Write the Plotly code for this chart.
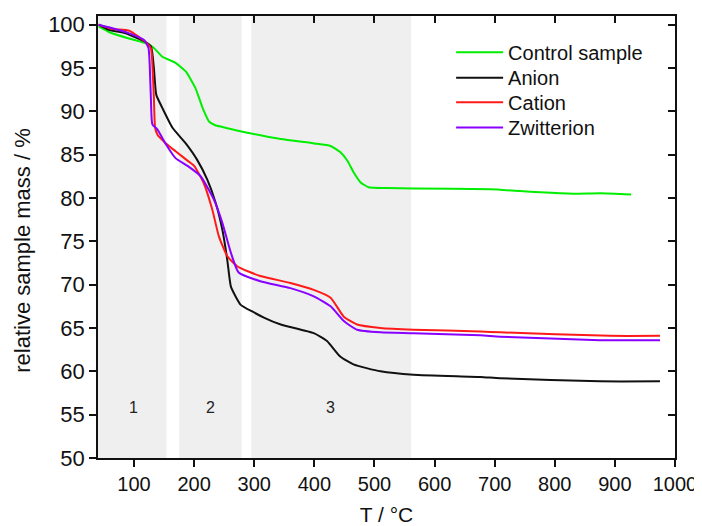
import plotly.graph_objects as go

# ---- data ----
control_x = [41, 60, 92, 122, 133, 140, 147, 169, 186, 202, 214, 225, 235, 247, 291, 344, 400, 427, 443,
             455, 465, 477, 490, 520, 565, 693, 742, 776, 831, 876, 927]
control_y = [99.8, 99.1, 98.4, 97.8, 97.3, 96.8, 96.3, 95.6, 94.6, 92.7, 90.4, 88.8, 88.4, 88.2, 87.5, 86.8,
             86.3, 86.0, 85.3, 84.3, 83.0, 81.8, 81.25, 81.15, 81.1, 81.0, 80.8, 80.65, 80.5, 80.55, 80.4]

anion_x = [41, 58, 86, 119, 128, 130, 133, 137, 147, 164, 186, 205, 222, 236, 247, 255, 261, 270, 277, 316,
           344, 399, 421, 443, 465, 510, 565, 676, 709, 875, 975]
anion_y = [100, 99.4, 99.0, 98.0, 97.5, 96.9, 95.0, 91.9, 90.4, 88.1, 86.3, 84.4, 82.1, 79.4, 76.3, 72.9,
           69.8, 68.5, 67.7, 66.2, 65.4, 64.4, 63.5, 61.7, 60.8, 60.0, 59.6, 59.35, 59.2, 58.85, 58.85]

cation_x = [41, 64, 92, 119, 128, 130.5, 133, 135, 139, 153, 169, 191, 200, 216, 230, 241, 255, 272, 310,
            360, 399, 427, 449, 471, 510, 565, 676, 709, 892, 975]
cation_y = [100, 99.5, 99.3, 98.0, 97.3, 95.4, 91.5, 88.1, 87.3, 86.3, 85.4, 84.2, 83.7, 81.7, 78.7, 75.6,
            73.3, 72.1, 71.0, 70.2, 69.4, 68.5, 66.3, 65.4, 65.0, 64.8, 64.6, 64.5, 64.1, 64.1]

zwit_x = [41, 58, 92, 117, 124, 126, 128, 130.5, 139, 153, 169, 189, 211, 233, 247, 261, 274, 310, 360,
          399, 427, 449, 471, 510, 565, 676, 709, 875, 975]
zwit_y = [100, 99.7, 99.0, 98.2, 97.3, 95.4, 91.5, 88.5, 87.9, 86.2, 84.6, 83.7, 82.5, 79.8, 77.1, 73.7,
          71.4, 70.4, 69.6, 68.65, 67.5, 65.8, 64.8, 64.5, 64.4, 64.15, 64.0, 63.6, 63.6]

region_start = [40, 175, 295]
region_end = [154, 279, 561]
region_labels = ["1", "2", "3"]
region_label_x = [99, 227, 427]
region_label_y = 55.8

x_ticks = [100, 200, 300, 400, 500, 600, 700, 800, 900, 1000]
y_ticks = [50, 55, 60, 65, 70, 75, 80, 85, 90, 95, 100]

FONT = "Liberation Sans, Arial, sans-serif"

fig = go.Figure()
series = [
    ("Control sample", control_x, control_y, "#00ee00"),
    ("Anion", anion_x, anion_y, "#111111"),
    ("Cation", cation_x, cation_y, "#ff1a1a"),
    ("Zwitterion", zwit_x, zwit_y, "#8800ff"),
]
legend_names = ["legend", "legend2", "legend3", "legend4"]
legend_y = [0.918, 0.8605, 0.805, 0.7475]
for (name, xs, ys, col), lg in zip(series, legend_names):
    fig.add_trace(go.Scatter(x=xs, y=ys, name=name, mode="lines", legend=lg,
                             line=dict(color=col, width=2, shape="spline", smoothing=0.5)))

for s, e in zip(region_start, region_end):
    fig.add_shape(type="rect", xref="x", yref="paper", x0=s, x1=e, y0=0, y1=1,
                  fillcolor="#efefef", line_width=0, layer="below")

for lab, lx in zip(region_labels, region_label_x):
    fig.add_annotation(x=lx, y=region_label_y, text=lab, showarrow=False,
                       font=dict(size=16, color="#222", family=FONT))

# y-axis title (placed as rotated text, slightly below centre as in the original)
fig.add_annotation(x=-0.13, y=0.471, xref="paper", yref="paper", text="relative sample mass / %",
                   textangle=-90, showarrow=False, xanchor="center", yanchor="middle",
                   font=dict(size=22, color="#111", family=FONT))

axis_common = dict(showline=True, linecolor="#111", linewidth=1.5, ticks="outside",
                   ticklen=7, tickwidth=1.5, tickcolor="#111", showgrid=False, zeroline=False,
                   automargin=False)

legend_common = dict(x=0.612, xanchor="left", yanchor="middle", bgcolor="rgba(0,0,0,0)",
                     font=dict(size=20, family=FONT, color="#111"), itemwidth=47)

# the page body adds an 8px offset, so the figure is 8px smaller with margins compensated
fig.update_layout(
    width=694, height=518,
    margin=dict(l=90, r=27, t=8, b=68),
    paper_bgcolor="white", plot_bgcolor="white",
    font=dict(family=FONT, color="#111"),
    xaxis=dict(range=[40, 1000], tickvals=x_ticks,
               tickfont=dict(size=20, color="#111", family=FONT),
               title=dict(text="T / °C", font=dict(size=21, family=FONT), standoff=14),
               **axis_common),
    yaxis=dict(range=[50, 101], tickvals=y_ticks,
               tickfont=dict(size=22, color="#111", family=FONT),
               **axis_common),
    xaxis2=dict(range=[40, 1000], tickvals=x_ticks, overlaying="x", side="top", anchor="y",
                showline=True, linecolor="#111", linewidth=1.5, ticks="inside", ticklen=7, automargin=False,
                tickwidth=1.5, tickcolor="#111", showticklabels=False, showgrid=False, zeroline=False),
    yaxis2=dict(range=[50, 101], tickvals=y_ticks, overlaying="y", side="right", anchor="x",
                showline=True, linecolor="#111", linewidth=1.5, ticks="inside", ticklen=7, automargin=False,
                tickwidth=1.5, tickcolor="#111", showticklabels=False, showgrid=False, zeroline=False),
    legend=dict(y=legend_y[0], **legend_common),
    legend2=dict(y=legend_y[1], **legend_common),
    legend3=dict(y=legend_y[2], **legend_common),
    legend4=dict(y=legend_y[3], **legend_common),
    showlegend=True,
)
# dummy invisible trace so overlay axes are drawn
fig.add_trace(go.Scatter(x=[None], y=[None], xaxis="x2", yaxis="y2", showlegend=False, hoverinfo="skip"))

fig.write_html("out.html")
